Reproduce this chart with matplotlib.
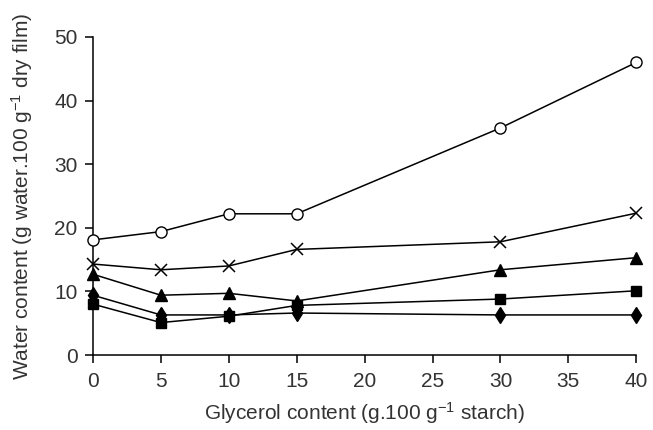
import matplotlib
matplotlib.use("Agg")
import matplotlib.pyplot as plt

plt.rcParams['font.family'] = ['Liberation Sans', 'DejaVu Sans']
plt.rcParams['mathtext.fontset'] = 'custom'
plt.rcParams['mathtext.rm'] = 'Liberation Sans'
plt.rcParams['mathtext.it'] = 'Liberation Sans'

glycerol = [0, 5, 10, 15, 30, 40]
circles = [18.1, 19.4, 22.2, 22.2, 35.7, 46.0]
crosses = [14.3, 13.4, 14.0, 16.6, 17.8, 22.3]
triangles = [12.7, 9.4, 9.7, 8.5, 13.4, 15.3]
squares = [8.0, 5.1, 6.1, 7.8, 8.8, 10.1]
diamonds = [9.4, 6.3, 6.3, 6.6, 6.3, 6.3]

xticks = [0, 5, 10, 15, 20, 25, 30, 35, 40]
yticks = [0, 10, 20, 30, 40, 50]

fig = plt.figure(figsize=(6.53, 4.30), dpi=100)
ax = fig.add_axes([0.1424, 0.1744, 0.832, 0.7396])

lw = 1.1
ax.plot(glycerol, diamonds, color='black', lw=lw, marker='d', ms=8, mfc='black', mec='black', clip_on=False, zorder=3)
ax.plot(glycerol, squares, color='black', lw=lw, marker='s', ms=7, mfc='black', mec='black', clip_on=False, zorder=3)
ax.plot(glycerol, triangles, color='black', lw=lw, marker='^', ms=8, mfc='black', mec='black', clip_on=False, zorder=3)
ax.plot(glycerol, crosses, color='black', lw=lw, marker='x', ms=9, mew=1.1, clip_on=False, zorder=3)
ax.plot(glycerol, circles, color='black', lw=lw, marker='o', ms=8, mfc='white', mec='black', mew=1.0, clip_on=False, zorder=4)

ax.set_xlim(0, 40)
ax.set_ylim(0, 50)
ax.set_xticks(xticks)
ax.set_yticks(yticks)
for s in ['top', 'right']:
    ax.spines[s].set_visible(False)
for s in ['left', 'bottom']:
    ax.spines[s].set_linewidth(1.1)
ax.tick_params(direction='out', length=6, width=1.1, labelsize=15, labelcolor='#333333', color='black')
ax.tick_params(axis='x', pad=6)
ax.tick_params(axis='y', pad=5)

ax.set_xlabel('Glycerol content (g.100 g$^{-1}$ starch)', fontsize=15, color='#333333', labelpad=7)
ax.set_ylabel('Water content (g water.100 g$^{-1}$ dry film)', fontsize=15, color='#333333', labelpad=14)

fig.savefig('out.png', dpi=100)
